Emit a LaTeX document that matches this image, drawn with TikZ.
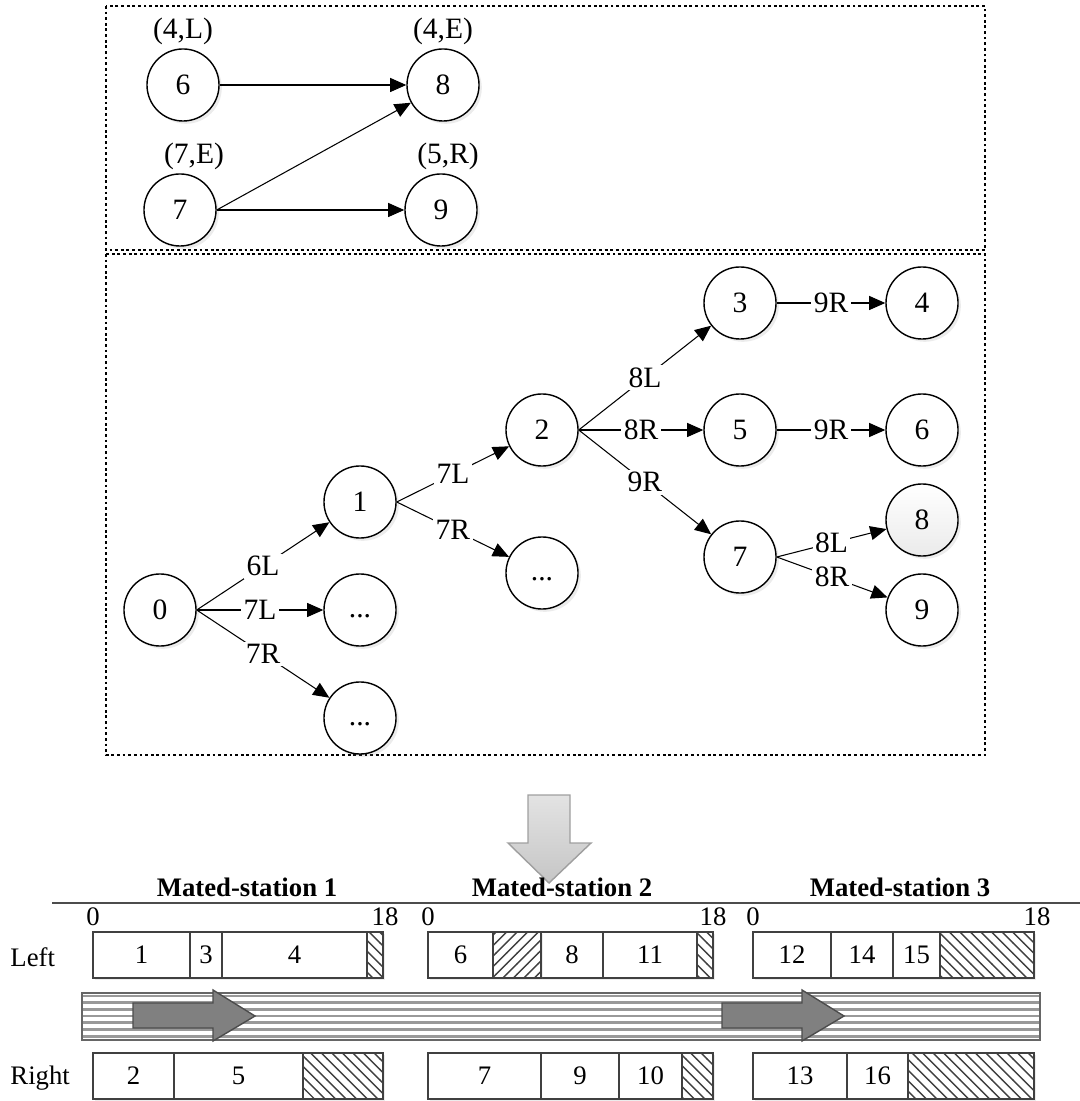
\documentclass[tikz,border=0pt]{standalone}
\usepackage{fontspec}
\setmainfont{Liberation Serif}
\usetikzlibrary{arrows.meta,positioning,shadows,patterns}

\tikzset{
  state/.style={circle, draw, line width=0.4pt, minimum size=0.72cm, inner sep=0pt, fill=white,
    drop shadow={shadow xshift=0.8pt, shadow yshift=-0.8pt, opacity=0.15}},
  lbl/.style={fill=white, inner sep=0.7pt},
  arc/.style={-{Triangle[length=4.6pt,width=4pt]}, line width=0.3pt},
  frame/.style={line width=0.7pt, dash pattern=on 0.8pt off 0.8pt},
  cellbox/.style={draw=black!75, line width=0.4pt, fill=white,
    drop shadow={shadow xshift=0.7pt, shadow yshift=-0.7pt, opacity=0.15}},
  title/.style={font=\fontsize{7.6}{9}\selectfont\bfseries, anchor=base},
  big/.style={font=\fontsize{8.4}{10}\selectfont},
}

\begin{document}
\begin{tikzpicture}[x=0.01cm, y=-0.01cm, font=\fontsize{7.6}{9}\selectfont]
\useasboundingbox (0,0) rectangle (1080,1101);

% precedence relations
\begin{scope}[big]
\draw[frame] (106,6) rectangle (985,250);
\node[state] (p6) at (183,85) {6};
\node[state] (p8) at (443,85) {8};
\node[state] (p7) at (180,210) {7};
\node[state] (p9) at (441,210) {9};
\node[above=-2.6pt of p6] (t6) {(4,L)};
\node[above=-2.6pt of p8] (t8) {(4,E)};
\node[above=-2.6pt of p7, xshift=4pt] (t7) {(7,E)};
\node[above=-2.6pt of p9, xshift=2pt] (t9) {(5,R)};
\draw[arc] (p6) -- (p8);
\draw[arc] (p7.east) -- (p8);
\draw[arc] (p7) -- (p9);

% search tree
\draw[frame] (106,254) rectangle (985,755);
\node[state] (s0) at (160,610) {0};
\node[state] (s1) at (360,502) {1};
\node[state] (d1) at (360,610) {\strut...};
\node[state] (d2) at (360,718) {\strut...};
\node[state] (s2) at (542,430) {2};
\node[state] (d3) at (542,573) {\strut...};
\node[state] (s3) at (740,303) {3};
\node[state] (s5) at (740,430) {5};
\node[state] (s7) at (740,557) {7};
\node[state] (s4) at (922,303) {4};
\node[state] (s6) at (922,430) {6};
\node[state, top color=white, bottom color=gray!16] (s8) at (922,520) {8};
\node[state] (s9) at (922,610) {9};
\foreach \a/\b/\t in {s0/s1/6L, s0/d1/7L, s0/d2/7R, s1/s2/7L, s1/d3/7R,
    s2/s3/8L, s2/s5/8R, s2/s7/9R, s3/s4/9R, s5/s6/9R, s7/s8/8L, s7/s9/8R}
  \draw[arc] (\a.east) -- node[lbl] {\t} (\b);
\end{scope}

% transition arrow
\draw[draw=gray!75, top color=gray!22, bottom color=gray!45]
  (528,795) -- (570,795) -- (570,843) -- (591,843) -- (549,883) -- (508,843) -- (528,843) -- cycle;

% mated-stations
\draw[black!70, line width=0.4pt] (52,903) -- (1080,903);
\node[title] (ms1) at (247,896) {Mated-station 1};
\node[title] (ms2) at (562,896) {Mated-station 2};
\node[title] (ms3) at (900,896) {Mated-station 3};
\foreach \a/\b/\n in {93/385/1, 428/713/2, 753/1037/3} {
  \node (zero\n) at (\a,917) {0};
  \node (end\n) at (\b,917) {18};
}
\node[anchor=west] (left) at (-2,957) {Left};
\node[anchor=west] (right) at (-2,1078) {Right};

% left side tasks
\foreach \a/\b/\t in {93/190/1, 190/222/3, 222/367/4, 428/493/6, 541/603/8,
    603/697/11, 753/831/12, 831/893/14, 893/940/15} {
  \draw[cellbox] (\a,932) rectangle (\b,978);
  \node (cell\t) at ({(\a+\b)/2},955) {\t};
}
\foreach \a/\b in {367/383, 697/713, 940/1034}
  \draw[cellbox, postaction={pattern=north west lines, pattern color=black!75}] (\a,932) rectangle (\b,978);
\draw[cellbox, postaction={pattern=north east lines, pattern color=black!75}] (493,932) rectangle (541,978);

% right side tasks
\foreach \a/\b/\t in {93/174/2, 174/303/5, 428/541/7, 541/619/9, 619/682/10,
    753/847/13, 847/908/16} {
  \draw[cellbox] (\a,1053) rectangle (\b,1099);
  \node (cell\t) at ({(\a+\b)/2},1076) {\t};
}
\foreach \a/\b in {303/383, 682/713, 908/1034}
  \draw[cellbox, postaction={pattern=north west lines, pattern color=black!75}] (\a,1053) rectangle (\b,1099);

% conveyor
\fill[white] (82,993) rectangle (1040,1040);
\foreach \y in {996,1002.7,...,1037}
  \draw[gray!80, line width=0.75pt] (82,\y) -- (1040,\y);
\draw[black!60, line width=0.4pt] (82,993) rectangle (1040,1040);
\foreach \s in {0,589}
  \draw[fill=gray, draw=black!70, line width=0.4pt, xshift=\s*0.01cm]
    (133,1003) -- (213,1003) -- (213,990) -- (255,1016) -- (213,1041) -- (213,1028) -- (133,1028) -- cycle;
\end{tikzpicture}
\end{document}
